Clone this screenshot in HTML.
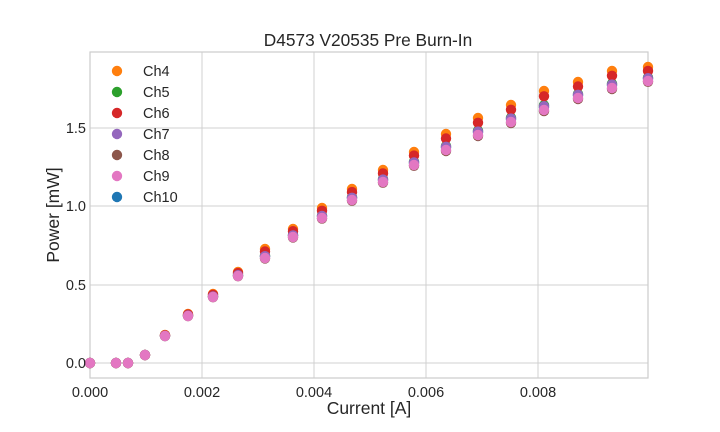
<!DOCTYPE html>
<html><head><meta charset="utf-8"><style>
body{margin:0;background:#fff}
svg{display:block;font-family:"Liberation Sans",sans-serif}
</style></head><body>
<svg id="s" width="720" height="432" xmlns="http://www.w3.org/2000/svg">
<rect width="720" height="432" fill="#fff"/>
<g stroke="#d0d0d0" stroke-width="1">
<line x1="202" y1="52" x2="202" y2="378"/><line x1="314" y1="52" x2="314" y2="378"/>
<line x1="426" y1="52" x2="426" y2="378"/><line x1="538" y1="52" x2="538" y2="378"/>
<line x1="90" y1="363" x2="648" y2="363"/><line x1="90" y1="285" x2="648" y2="285"/>
<line x1="90" y1="206" x2="648" y2="206"/><line x1="90" y1="128" x2="648" y2="128"/>
</g>
<rect x="90" y="52" width="558" height="326" fill="none" stroke="#cccccc" stroke-width="1.2"/>
<g id="pts"></g>
<g font-size="14.5" fill="#262626">
<text x="90" y="397" text-anchor="middle">0.000</text>
<text x="202" y="397" text-anchor="middle">0.002</text>
<text x="314" y="397" text-anchor="middle">0.004</text>
<text x="426" y="397" text-anchor="middle">0.006</text>
<text x="538" y="397" text-anchor="middle">0.008</text>
<text x="86" y="368" text-anchor="end">0.0</text>
<text x="86" y="290" text-anchor="end">0.5</text>
<text x="86" y="211" text-anchor="end">1.0</text>
<text x="86" y="133" text-anchor="end">1.5</text>
</g>
<text x="368" y="46" font-size="17.3" text-anchor="middle" fill="#262626">D4573 V20535 Pre Burn-In</text>
<text x="369" y="414" font-size="17.5" text-anchor="middle" fill="#262626">Current [A]</text>
<text transform="translate(59,215) rotate(-90)" font-size="17.5" text-anchor="middle" fill="#262626">Power [mW]</text>
<g id="leg" font-size="14.5" fill="#262626"></g>
</svg>
<script>
var xs=[90,116,128,145,165,188,213,238,265,293,322,352,383,414,446,478,511,544,578,612,648];
var pk=[363,363,363,355,336,316,297,276,258,237,218,200,182,165,150,135,122,110,98,88,81];
var or=[363,363,363,355,335,314,294,272,249,229,208,189,170,152,134,118,105,91,82,71,67];
var ser=[["#1f77b4",0.85],["#ff7f0e",0],["#2ca02c",0.75],["#d62728",0.28],["#9467bd",0.8],["#8c564b",1.06],["#e377c2",1.0]];
var g=document.getElementById('pts'),h='';
ser.forEach(function(s){for(var i=0;i<xs.length;i++){var y=or[i]+(pk[i]-or[i])*s[1];h+='<circle cx="'+xs[i]+'" cy="'+y.toFixed(1)+'" r="5.2" fill="'+s[0]+'"/>';}});
g.innerHTML=h;
var L=[["Ch4","#ff7f0e"],["Ch5","#2ca02c"],["Ch6","#d62728"],["Ch7","#9467bd"],["Ch8","#8c564b"],["Ch9","#e377c2"],["Ch10","#1f77b4"]],lh='';
L.forEach(function(l,i){var y=71+i*21;lh+='<circle cx="117" cy="'+y+'" r="5.2" fill="'+l[1]+'"/><text x="143" y="'+(y+5)+'">'+l[0]+'</text>';});
document.getElementById('leg').innerHTML=lh;
</script>
</body></html>
